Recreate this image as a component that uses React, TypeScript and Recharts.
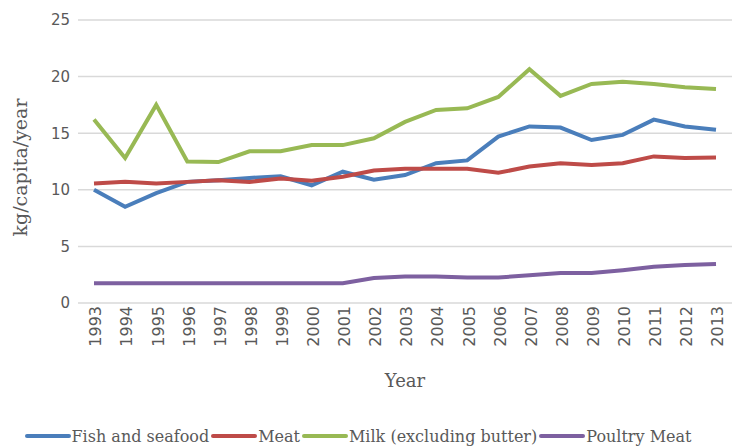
import { LineChart, Line, XAxis, YAxis, CartesianGrid, Legend } from 'recharts';

const years = [
  '1993', '1994', '1995', '1996', '1997', '1998', '1999', '2000', '2001', '2002', '2003',
  '2004', '2005', '2006', '2007', '2008', '2009', '2010', '2011', '2012', '2013',
];

const fish = [
  10.0, 8.5, 9.7, 10.7, 10.85, 11.05, 11.2, 10.4, 11.6, 10.9, 11.3,
  12.35, 12.6, 14.7, 15.6, 15.5, 14.4, 14.85, 16.2, 15.6, 15.3,
];
const meat = [
  10.55, 10.7, 10.55, 10.7, 10.85, 10.7, 11.0, 10.8, 11.15, 11.7, 11.85,
  11.85, 11.85, 11.5, 12.05, 12.35, 12.2, 12.35, 12.95, 12.8, 12.85,
];
const milk = [
  16.2, 12.8, 17.5, 12.5, 12.45, 13.4, 13.4, 13.95, 13.95, 14.55, 16.0,
  17.05, 17.2, 18.2, 20.65, 18.3, 19.35, 19.55, 19.35, 19.05, 18.9,
];
const poultry = [
  1.75, 1.75, 1.75, 1.75, 1.75, 1.75, 1.75, 1.75, 1.75, 2.2, 2.35,
  2.35, 2.25, 2.25, 2.45, 2.65, 2.65, 2.9, 3.2, 3.35, 3.45,
];

const yTicks = [0, 5, 10, 15, 20, 25];

const series = [
  { key: 'fish', name: 'Fish and seafood', color: '#4A7EBB' },
  { key: 'meat', name: 'Meat', color: '#BE4B48' },
  { key: 'milk', name: 'Milk (excluding butter)', color: '#98B954' },
  { key: 'poultry', name: 'Poultry Meat', color: '#7D60A0' },
];

const data = years.map((year, i) => ({
  year,
  fish: fish[i],
  meat: meat[i],
  milk: milk[i],
  poultry: poultry[i],
}));

const serif = '"DejaVu Serif", serif';
const sans = '"DejaVu Sans", sans-serif';
const textColor = '#595959';

// Excel-style legend: thick swatch butted right against the label
function LegendContent() {
  return (
    <div
      style={{
        display: 'flex',
        justifyContent: 'center',
        alignItems: 'center',
        boxSizing: 'border-box',
        height: 24,
        paddingTop: 4,
        paddingRight: 16,
        fontFamily: serif,
        fontSize: 16,
        color: textColor,
        gap: 2,
      }}
    >
      {series.map((s) => (
        <div key={s.key} style={{ display: 'flex', alignItems: 'center' }}>
          <span
            style={{
              display: 'inline-block',
              width: 46,
              height: 4,
              borderRadius: 2,
              background: s.color,
              marginRight: 1,
            }}
          />
          <span>{s.name}</span>
        </div>
      ))}
    </div>
  );
}

export default function App() {
  return (
    <div style={{ position: 'absolute', left: 0, top: 0, background: '#fff' }}>
      <LineChart
        width={737}
        height={446}
        data={data}
        margin={{ top: 20, right: 5, left: 0, bottom: 0 }}
      >
        <CartesianGrid vertical={false} stroke="#D9D9D9" strokeWidth={1.5} />
        <XAxis
          dataKey="year"
          height={119}
          padding={{ left: 16, right: 16 }}
          axisLine={false}
          tickLine={false}
          interval={0}
          angle={-90}
          textAnchor="end"
          dx={-4}
          dy={-5}
          tick={{ fill: textColor, fontSize: 16, fontFamily: sans }}
          label={{
            value: 'Year',
            position: 'insideTop',
            dy: 66,
            fill: textColor,
            fontSize: 18,
            fontFamily: serif,
          }}
        />
        <YAxis
          width={78}
          domain={[0, 25]}
          ticks={yTicks}
          axisLine={false}
          tickLine={false}
          tick={{ fill: textColor, fontSize: 15, fontFamily: sans }}
          label={{
            value: 'kg/capita/year',
            angle: -90,
            position: 'insideLeft',
            dx: 15,
            dy: 6,
            fill: textColor,
            fontSize: 19,
            fontFamily: serif,
            style: { textAnchor: 'middle' },
          }}
        />
        <Legend verticalAlign="bottom" content={<LegendContent />} />
        {series.map((s) => (
          <Line
            key={s.key}
            type="linear"
            dataKey={s.key}
            name={s.name}
            stroke={s.color}
            strokeWidth={4}
            dot={false}
            isAnimationActive={false}
          />
        ))}
      </LineChart>
    </div>
  );
}
